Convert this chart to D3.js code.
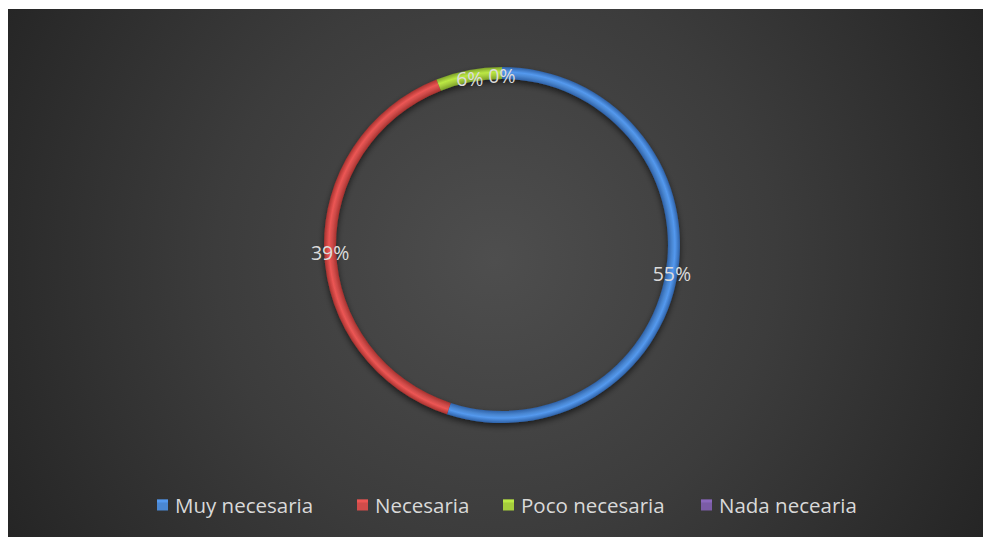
<!DOCTYPE html>
<html><head><meta charset="utf-8">
<script src="https://cdn.jsdelivr.net/npm/d3@7"></script>
<style>html,body{margin:0;padding:0;background:#fff;}svg{display:block;}</style>
</head><body>
<svg id="c" width="985" height="537"></svg>
<script>
const categories = ["Muy necesaria", "Necesaria", "Poco necesaria", "Nada necearia"];
const values = [55, 39, 6, 0];
const labels = ["55%", "39%", "6%", "0%"];
const colors = ["#4a87d2", "#d04c4a", "#a5cd3c", "#7b5ca6"];
const darkColors = ["#2f62a8", "#a8322f", "#7da22a", "#5a3f80"];

const svg = d3.select("#c");
const defs = svg.append("defs");
const bg = defs.append("radialGradient").attr("id","bg")
  .attr("gradientUnits","userSpaceOnUse").attr("cx",495).attr("cy",260).attr("r",560);
bg.append("stop").attr("offset","0").attr("stop-color","#4e4e4e");
bg.append("stop").attr("offset","0.5").attr("stop-color","#3c3c3c");
bg.append("stop").attr("offset","1").attr("stop-color","#252525");

const sh = defs.append("filter").attr("id","sh").attr("x","-20%").attr("y","-20%").attr("width","140%").attr("height","140%");
sh.append("feGaussianBlur").attr("in","SourceAlpha").attr("stdDeviation",3).attr("result","b");
sh.append("feOffset").attr("in","b").attr("dx",0).attr("dy",3).attr("result","o");
sh.append("feComponentTransfer").attr("in","o").attr("result","o2")
  .append("feFuncA").attr("type","linear").attr("slope",0.6);
const m = sh.append("feMerge");
m.append("feMergeNode").attr("in","o2");
m.append("feMergeNode").attr("in","SourceGraphic");

svg.append("rect").attr("x",8).attr("y",9).attr("width",975).attr("height",528).attr("fill","url(#bg)");

const cx = 502, cy = 245, rOut = 178, rIn = 166;
const g = svg.append("g").attr("transform",`translate(${cx},${cy})`);

colors.forEach((c,i)=>{
  const rg = defs.append("radialGradient").attr("id","rg"+i)
    .attr("gradientUnits","userSpaceOnUse").attr("cx",0).attr("cy",0).attr("r",rOut);
  rg.append("stop").attr("offset", rIn/rOut).attr("stop-color", darkColors[i]);
  rg.append("stop").attr("offset", (rIn+4)/rOut).attr("stop-color", c);
  rg.append("stop").attr("offset", (rIn+7)/rOut).attr("stop-color", d3.color(c).brighter(0.35));
  rg.append("stop").attr("offset", 1).attr("stop-color", darkColors[i]);
});

const pie = d3.pie().sort(null).value(d=>d)(values);
const arc = d3.arc().innerRadius(rIn).outerRadius(rOut);
const labelArc = d3.arc().innerRadius(172).outerRadius(172);

g.append("g").attr("filter","url(#sh)").selectAll("path").data(pie).join("path")
  .attr("d", arc)
  .attr("fill",(d,i)=>`url(#rg${i})`);

g.selectAll("text").data(pie).join("text")
  .attr("transform", d=>{ const p = labelArc.centroid(d); return `translate(${p[0]},${p[1]+2})`; })
  .attr("text-anchor","middle").attr("dominant-baseline","central")
  .attr("font-family","'Open Sans', sans-serif").attr("font-size",19.5)
  .attr("fill","#dcdcdc")
  .text((d,i)=>labels[i]);

const markX = [157, 357, 503, 701];
const lg = svg.append("g").attr("transform","translate(0,505)");
categories.forEach((c,i)=>{
  const it = lg.append("g").attr("transform",`translate(${markX[i]},0)`);
  it.append("rect").attr("x",0).attr("y",-5.5).attr("width",11).attr("height",11).attr("fill",colors[i]);
  it.append("rect").attr("x",0).attr("y",-5.5).attr("width",11).attr("height",3).attr("fill",d3.color(colors[i]).brighter(0.5)).attr("opacity",0.7);
  it.append("text").attr("x",18).attr("y",0).attr("dominant-baseline","central")
    .attr("font-family","'Open Sans', sans-serif").attr("font-size",20.5).attr("fill","#d9d9d9")
    .text(c);
});
</script>
</body></html>
